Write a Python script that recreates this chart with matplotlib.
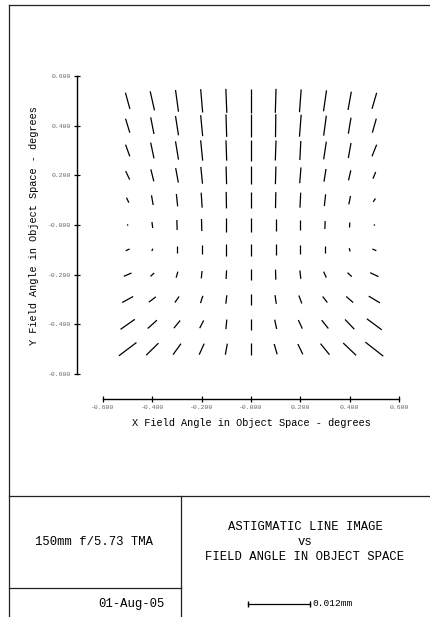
import matplotlib
matplotlib.use('Agg')
import matplotlib.pyplot as plt
from matplotlib.lines import Line2D

plt.rcParams['font.family'] = ['Liberation Mono', 'DejaVu Sans Mono']

# field grid in object space (degrees) -----------------------------
x_field = [-0.5, -0.4, -0.3, -0.2, -0.1, 0.0, 0.1, 0.2, 0.3, 0.4, 0.5]
y_field = [0.5, 0.4, 0.3, 0.2, 0.1, 0.0, -0.1, -0.2, -0.3, -0.4, -0.5]

# astigmatic line image, full extent in microns
# dx > 0 : upper end leans to the right ("/")
line_dx = [
    [-0.87, -0.83, -0.58, -0.39, -0.19, 0.00, 0.14, 0.33, 0.58, 0.64, 0.91],
    [-0.83, -0.64, -0.58, -0.39, -0.14, 0.00, 0.06, 0.33, 0.52, 0.52, 0.77],
    [-0.83, -0.64, -0.58, -0.39, -0.14, 0.00, 0.14, 0.19, 0.52, 0.52, 0.91],
    [-0.77, -0.58, -0.52, -0.33, -0.10, 0.00, 0.10, 0.25, 0.39, 0.45, 0.52],
    [-0.45, -0.33, -0.25, -0.19, -0.06, 0.00, 0.06, 0.14, 0.25, 0.33, 0.45],
    [-0.10, -0.14, -0.06, -0.06, 0.00, 0.00, 0.00, 0.00, 0.06, 0.06, 0.10],
    [0.77, 0.19, 0.00, 0.00, 0.00, 0.00, 0.00, 0.00, 0.00, -0.14, -0.77],
    [1.49, 0.72, 0.33, 0.14, 0.10, 0.00, -0.06, -0.19, -0.52, -0.83, -1.61],
    [2.13, 1.35, 0.83, 0.45, 0.19, 0.00, -0.25, -0.58, -0.91, -1.35, -2.19],
    [2.77, 1.80, 1.22, 0.77, 0.19, 0.00, -0.39, -0.77, -1.30, -1.80, -2.90],
    [3.42, 2.38, 1.55, 0.97, 0.39, 0.00, -0.58, -0.97, -1.74, -2.52, -3.48],
]
line_dy = [
    [3.15, 3.68, 4.20, 4.51, 4.64, 4.64, 4.64, 4.39, 4.06, 3.54, 3.10],
    [2.71, 3.23, 3.73, 4.06, 4.32, 4.45, 4.45, 4.26, 3.87, 3.10, 2.71],
    [2.26, 3.04, 3.54, 3.93, 3.93, 3.87, 3.87, 3.68, 3.42, 2.90, 2.26],
    [1.64, 2.32, 2.81, 3.25, 3.42, 3.42, 3.42, 3.04, 2.46, 1.94, 1.30],
    [0.97, 1.88, 2.38, 2.90, 3.19, 3.10, 3.10, 2.90, 2.26, 1.61, 0.64],
    [0.25, 1.16, 1.94, 2.32, 2.52, 2.52, 2.32, 1.94, 1.55, 0.97, 0.25],
    [0.33, 0.45, 1.30, 1.80, 2.26, 2.23, 2.07, 1.68, 1.30, 0.64, 0.33],
    [0.64, 0.64, 1.16, 1.41, 1.68, 2.03, 1.94, 1.61, 1.16, 0.77, 0.77],
    [1.16, 1.03, 1.16, 1.41, 1.64, 2.03, 1.68, 1.55, 1.16, 1.16, 1.30],
    [1.94, 1.61, 1.49, 1.49, 1.84, 2.13, 1.80, 1.68, 1.61, 1.88, 2.13],
    [2.57, 2.32, 2.13, 2.13, 2.13, 2.23, 1.99, 1.99, 2.13, 2.38, 2.71],
]

# scale: 0.012 mm of image = 0.25 deg on the plot
scale_um = 12.0
scale_deg = 0.25
deg_per_um = scale_deg / scale_um

tick_vals = [-0.6, -0.4, -0.2, 0.0, 0.2, 0.4, 0.6]
tick_labels = ['-0.600', '-0.400', '-0.200', '-0.000', '0.200', '0.400', '0.600']
ytick_labels = ['-0.600', '-0.400', '-0.200', '-0.000', '0.200', '0.400', '0.600']

W, H = 430, 617
fig = plt.figure(figsize=(W / 100, H / 100), dpi=100)
ax = fig.add_axes([103 / W, 1 - 374 / H, 296 / W, 298 / H])
ax.set_xlim(-0.6, 0.6)
ax.set_ylim(-0.6, 0.6)

for i, yc in enumerate(y_field):
    for j, xc in enumerate(x_field):
        hx = line_dx[i][j] * deg_per_um / 2
        hy = line_dy[i][j] * deg_per_um / 2
        ax.plot([xc - hx, xc + hx], [yc - hy, yc + hy], color='black',
                lw=0.9, solid_capstyle='butt')

# axes: detached spines
for s in ['top', 'right']:
    ax.spines[s].set_visible(False)
ax.spines['left'].set_position(('outward', 18.7))
ax.spines['bottom'].set_position(('outward', 18.0))
ax.spines['left'].set_bounds(-0.6, 0.6)
ax.spines['bottom'].set_bounds(-0.6, 0.6)
for s in ['left', 'bottom']:
    ax.spines[s].set_linewidth(1.0)
ax.set_xticks(tick_vals)
ax.set_xticklabels(tick_labels)
ax.set_yticks(tick_vals)
ax.set_yticklabels(ytick_labels)
ax.tick_params(direction='inout', length=4, width=0.9, labelsize=4.6,
               labelcolor='#666666', pad=2)

fig.text(251 / W, 1 - 423 / H, 'X Field Angle in Object Space - degrees',
         ha='center', va='center', fontsize=7.4)
fig.text(34 / W, 1 - 226 / H, 'Y Field Angle in Object Space - degrees',
         ha='center', va='center', fontsize=7.4, rotation=90)

# title block frame
def fline(x0, y0, x1, y1):
    fig.add_artist(Line2D([x0 / W, x1 / W], [1 - y0 / H, 1 - y1 / H],
                          transform=fig.transFigure, color='#222222', lw=0.9))

fline(9, 5, W, 5)
fline(9, 5, 9, H)
fline(9, 496, W, 496)
fline(181, 496, 181, H)
fline(9, 588, 181, 588)

fig.text(94 / W, 1 - 542 / H, '150mm f/5.73 TMA', ha='center', va='center', fontsize=8.8)
fig.text(165 / W, 1 - 604 / H, '01-Aug-05', ha='right', va='center', fontsize=8.8)
fig.text(305 / W, 1 - 527 / H, 'ASTIGMATIC LINE IMAGE', ha='center', va='center', fontsize=8.8)
fig.text(305 / W, 1 - 542 / H, 'vs', ha='center', va='center', fontsize=8.8)
fig.text(305 / W, 1 - 557 / H, 'FIELD ANGLE IN OBJECT SPACE', ha='center', va='center', fontsize=8.8)

# scale bar, length taken from the plot's data transform
p0 = ax.transData.transform((0.0, 0.0))
p1 = ax.transData.transform((scale_deg, 0.0))
bar_px = p1[0] - p0[0]
bx0 = 248
by = 1 - 604 / H
fig.add_artist(Line2D([bx0 / W, (bx0 + bar_px) / W], [by, by], transform=fig.transFigure,
                      color='black', lw=0.9, marker='|', markersize=4, markevery=[0, 1]))
fig.text((bx0 + bar_px + 3) / W, by, '%.3fmm' % (scale_um / 1000), ha='left', va='center',
         fontsize=6.8)

fig.savefig('out.png', dpi=100)
